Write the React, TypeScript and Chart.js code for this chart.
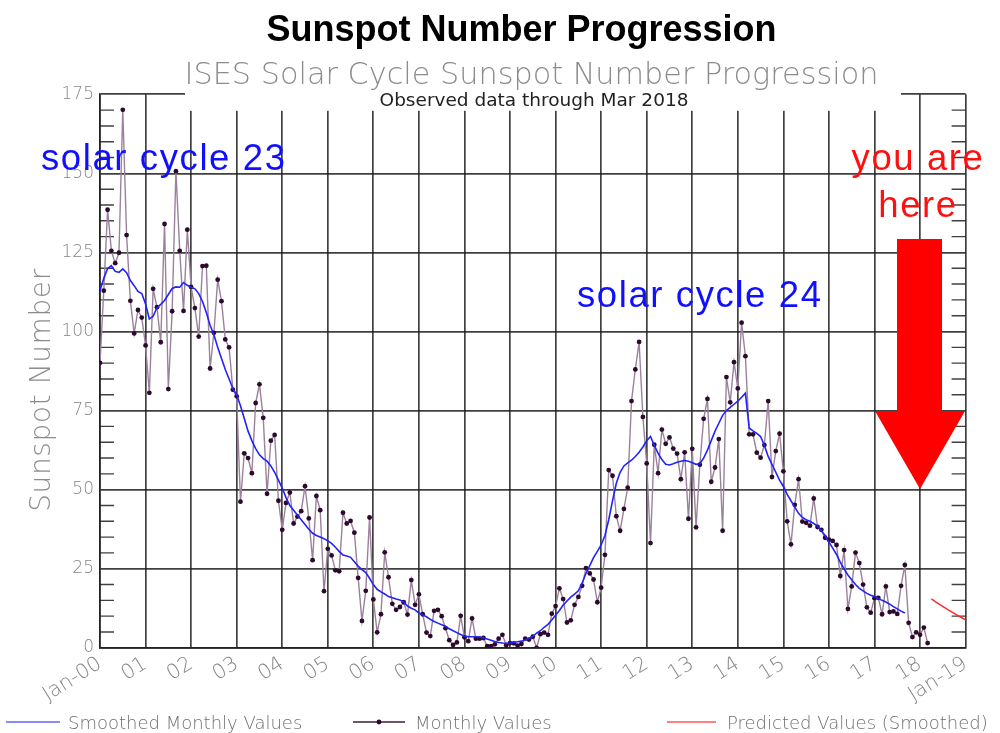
import React, { useEffect, useRef } from "react";
import { Chart, registerables } from "chart.js";

Chart.register(...registerables);

// ---------- Monthly values (Jan 2000 .. Mar 2018) ----------
const monthly2000 = [90.1, 112.9, 138.5, 125.5, 121.6, 124.9, 170.1, 130.5, 109.7, 99.4, 106.8, 104.4];
const monthly2001 = [95.6, 80.6, 113.5, 107.7, 96.6, 134.0, 81.8, 106.4, 150.7, 125.5, 106.5, 132.2];
const monthly2002 = [114.1, 107.4, 98.4, 120.7, 120.8, 88.3, 99.6, 116.4, 109.6, 97.5, 95.0, 81.6];
const monthly2003 = [79.5, 46.2, 61.5, 60.0, 55.2, 77.4, 83.3, 72.7, 48.7, 65.5, 67.3, 46.5];
const monthly2004 = [37.3, 45.8, 49.1, 39.3, 41.5, 43.2, 51.1, 40.9, 27.7, 48.0, 43.5, 17.9];
const monthly2005 = [31.3, 29.2, 24.5, 24.2, 42.7, 39.3, 40.1, 36.4, 22.1, 8.5, 18.0, 41.2];
const monthly2006 = [15.3, 4.9, 10.6, 30.2, 22.3, 13.9, 12.0, 12.9, 14.4, 10.5, 21.4, 13.6];
const monthly2007 = [16.9, 10.6, 4.8, 3.7, 11.7, 12.0, 10.0, 6.2, 2.4, 0.9, 1.7, 10.1];
const monthly2008 = [3.3, 2.1, 9.3, 2.9, 2.9, 3.1, 0.5, 0.5, 1.1, 2.9, 4.1, 0.8];
const monthly2009 = [1.5, 1.4, 0.7, 1.2, 2.9, 2.6, 3.5, 0.0, 4.3, 4.8, 4.1, 10.8];
const monthly2010 = [13.2, 18.8, 15.4, 8.0, 8.7, 13.6, 16.1, 19.6, 25.2, 23.5, 21.6, 14.4];
const monthly2011 = [19.0, 29.4, 56.2, 54.4, 41.6, 37.0, 43.9, 50.6, 78.0, 88.0, 96.7, 73.0];
const monthly2012 = [58.3, 33.1, 64.2, 55.2, 69.0, 64.5, 66.5, 63.0, 61.4, 53.3, 61.8, 40.8];
const monthly2013 = [62.9, 38.1, 57.9, 72.4, 78.7, 52.5, 57.0, 66.0, 37.0, 85.6, 77.6, 90.3];
const monthly2014 = [82.0, 102.8, 92.2, 67.5, 67.5, 61.7, 60.1, 64.1, 78.0, 54.0, 62.2, 67.7];
const monthly2015 = [55.8, 40.0, 32.7, 45.2, 53.3, 39.9, 39.5, 38.6, 47.2, 38.2, 37.3, 34.8];
const monthly2016 = [34.2, 33.8, 32.5, 22.7, 30.9, 12.3, 19.4, 30.1, 26.8, 20.0, 12.8, 11.1];
const monthly2017 = [15.7, 15.8, 10.6, 19.4, 11.3, 11.5, 10.7, 19.6, 26.2, 7.9, 3.4, 4.9];
const monthly2018 = [4.1, 6.4, 1.5];

// ---------- Smoothed monthly values (Jan 2000 .. Sep 2017) ----------
const smoothed2000 = [112.9, 116.8, 119.9, 120.8, 119.0, 118.7, 119.8, 118.6, 116.1, 114.5, 112.7, 112.0];
const smoothed2001 = [108.7, 104.0, 104.8, 107.5, 108.6, 109.8, 111.7, 113.6, 114.1, 114.0, 115.5, 114.6];
const smoothed2002 = [114.0, 113.5, 112.0, 109.5, 106.0, 102.0, 99.0, 95.0, 91.5, 88.0, 85.0, 82.0];
const smoothed2003 = [80.0, 76.5, 72.5, 68.5, 65.5, 63.0, 61.0, 59.8, 59.0, 57.5, 55.5, 53.0];
const smoothed2004 = [50.5, 47.5, 45.0, 43.5, 42.0, 40.5, 39.0, 37.5, 36.2, 35.5, 35.0, 34.5];
const smoothed2005 = [33.8, 33.0, 31.8, 30.5, 29.3, 29.0, 28.6, 27.2, 25.8, 24.7, 23.8, 22.0];
const smoothed2006 = [20.0, 18.5, 17.7, 17.0, 16.2, 15.8, 15.4, 15.1, 14.5, 13.2, 12.5, 12.0];
const smoothed2007 = [11.0, 10.4, 9.8, 9.0, 8.3, 7.8, 7.3, 6.8, 6.0, 5.4, 4.8, 4.2];
const smoothed2008 = [3.7, 3.5, 3.5, 3.5, 3.4, 3.1, 2.8, 2.4, 2.0, 1.7, 1.5, 1.4];
const smoothed2009 = [1.5, 1.7, 1.9, 2.1, 2.5, 3.0, 3.6, 4.6, 5.4, 6.5, 7.4, 8.8];
const smoothed2010 = [10.3, 11.8, 13.5, 14.8, 16.0, 17.0, 18.0, 20.5, 23.5, 26.0, 28.5, 30.5];
const smoothed2011 = [32.5, 35.5, 40.5, 46.5, 52.0, 55.5, 57.5, 58.5, 59.3, 60.5, 61.8, 63.5];
const smoothed2012 = [65.5, 66.8, 64.0, 61.5, 59.5, 58.0, 57.8, 58.2, 58.7, 59.0, 59.2, 59.0];
const smoothed2013 = [58.5, 58.0, 58.2, 60.0, 62.5, 65.5, 68.5, 71.0, 73.5, 75.0, 76.0, 77.0];
const smoothed2014 = [78.0, 79.2, 80.5, 69.5, 68.6, 67.8, 66.8, 64.0, 60.5, 58.0, 55.5, 53.0];
const smoothed2015 = [51.0, 48.5, 46.5, 44.5, 42.5, 41.2, 40.5, 40.0, 39.3, 38.5, 37.0, 35.5];
const smoothed2016 = [33.5, 31.5, 29.5, 27.0, 25.0, 23.0, 21.5, 20.0, 18.8, 18.0, 17.2, 16.6];
const smoothed2017 = [16.2, 15.6, 15.0, 14.5, 13.8, 13.0, 12.3, 11.6, 11.0];

// ---------- Predicted smoothed values (Apr 2018 .. Jan 2019) ----------
const predictedValues = [15.5, 14.6, 13.8, 13.1, 12.3, 11.6, 10.9, 10.2, 9.5, 8.8];
const predictedStartMonth = 219; // months after Jan 2000 (Apr 2018)

// ---------- Axes / text ----------
const xTickLabels = ["Jan-00", "01", "02", "03", "04", "05", "06", "07", "08", "09", "10",
  "11", "12", "13", "14", "15", "16", "17", "18", "Jan-19"];
const yTickValues = [0, 25, 50, 75, 100, 125, 150, 175];

const chartTitle = "Sunspot Number Progression";
const chartSubtitle = "ISES Solar Cycle Sunspot Number Progression";
const chartNote = "Observed data through Mar 2018";
const yAxisTitle = "Sunspot Number";
const legendLabels = ["Smoothed Monthly Values", "Monthly Values", "Predicted Values (Smoothed)"];
const annotation23 = "solar cycle 23";
const annotation24 = "solar cycle 24";
const hereLines = ["you are", "here"];

const monthlyValues = [
  ...monthly2000, ...monthly2001, ...monthly2002, ...monthly2003, ...monthly2004, ...monthly2005,
  ...monthly2006, ...monthly2007, ...monthly2008, ...monthly2009, ...monthly2010, ...monthly2011,
  ...monthly2012, ...monthly2013, ...monthly2014, ...monthly2015, ...monthly2016, ...monthly2017,
  ...monthly2018,
];
const smoothedValues = [
  ...smoothed2000, ...smoothed2001, ...smoothed2002, ...smoothed2003, ...smoothed2004, ...smoothed2005,
  ...smoothed2006, ...smoothed2007, ...smoothed2008, ...smoothed2009, ...smoothed2010, ...smoothed2011,
  ...smoothed2012, ...smoothed2013, ...smoothed2014, ...smoothed2015, ...smoothed2016, ...smoothed2017,
];

const GRID = "rgba(30,30,30,0.85)";
const LABEL_FONT = '"DejaVu Sans", sans-serif';

function drawText(ctx: CanvasRenderingContext2D, str: string, x: number, y: number, font: string,
  color: string, align: CanvasTextAlign = "left", spacing = "0px") {
  ctx.save();
  ctx.font = font;
  ctx.fillStyle = color;
  ctx.textAlign = align;
  ctx.textBaseline = "alphabetic";
  (ctx as any).letterSpacing = spacing;
  ctx.fillText(str, x, y);
  ctx.restore();
}

const decorPlugin = {
  id: "decor",
  beforeDatasetsDraw(chart: any) {
    const ctx: CanvasRenderingContext2D = chart.ctx;
    const { left, right, top } = chart.chartArea;
    const ys = chart.scales.y;
    ctx.save();
    // minor ticks every 5 units on both vertical borders
    ctx.strokeStyle = GRID;
    ctx.lineWidth = 1.4;
    for (let v = 5; v < 175; v += 5) {
      if (v % 25 === 0) continue;
      const py = ys.getPixelForValue(v);
      ctx.beginPath();
      ctx.moveTo(left, py);
      ctx.lineTo(left + 14, py);
      ctx.moveTo(right - 14, py);
      ctx.lineTo(right, py);
      ctx.stroke();
    }
    // white box behind the note
    ctx.fillStyle = "#ffffff";
    ctx.fillRect(185, top - 8, 716, 24.5);
    ctx.restore();
  },
  afterDraw(chart: any) {
    const ctx: CanvasRenderingContext2D = chart.ctx;
    // titles
    drawText(ctx, chartTitle, 521.5, 41, 'bold 36px "Liberation Sans", Arial, sans-serif', "#000000", "center");
    drawText(ctx, chartSubtitle, 531.5, 84, '300 30.3px "DejaVu Sans", sans-serif', "#8c8c8c", "center");
    drawText(ctx, chartNote, 534, 106, '18.5px "DejaVu Sans", sans-serif', "#222222", "center");

    // y axis title
    ctx.save();
    ctx.translate(50, 390);
    ctx.rotate(-Math.PI / 2);
    drawText(ctx, yAxisTitle, 0, 0, '300 28px "DejaVu Sans", sans-serif', "#8c8c8c", "center", "0.6px");
    ctx.restore();

    // annotations
    const annFont = '36.5px "Liberation Sans", Arial, sans-serif';
    drawText(ctx, annotation23, 41, 169.5, annFont, "#1010ff", "left", "1.6px");
    drawText(ctx, annotation24, 577, 306.5, annFont, "#1010ff", "left", "1.6px");
    drawText(ctx, hereLines[0], 918, 170, annFont, "#ff1010", "center", "1.6px");
    drawText(ctx, hereLines[1], 918, 217, annFont, "#ff1010", "center", "1.6px");

    // red arrow
    ctx.save();
    ctx.fillStyle = "#ff0000";
    ctx.beginPath();
    ctx.moveTo(897, 239);
    ctx.lineTo(942, 239);
    ctx.lineTo(942, 411);
    ctx.lineTo(965, 411);
    ctx.lineTo(920, 489);
    ctx.lineTo(875, 411);
    ctx.lineTo(897, 411);
    ctx.closePath();
    ctx.fill();
    ctx.restore();

    // legend
    const ly = 722;
    ctx.save();
    ctx.lineWidth = 2;
    ctx.strokeStyle = "#8a8aff";
    ctx.beginPath(); ctx.moveTo(6, ly); ctx.lineTo(60, ly); ctx.stroke();
    ctx.strokeStyle = "#6e546e";
    ctx.beginPath(); ctx.moveTo(353, ly); ctx.lineTo(405, ly); ctx.stroke();
    ctx.fillStyle = "#2a0a2a";
    ctx.beginPath(); ctx.arc(379, ly, 2.4, 0, Math.PI * 2); ctx.fill();
    ctx.strokeStyle = "#ff8080";
    ctx.beginPath(); ctx.moveTo(667, ly); ctx.lineTo(716, ly); ctx.stroke();
    ctx.restore();
    const legFont = '300 18px "DejaVu Sans", sans-serif';
    drawText(ctx, legendLabels[0], 68, ly + 6.5, legFont, "#707070");
    drawText(ctx, legendLabels[1], 415, ly + 6.5, legFont, "#707070");
    drawText(ctx, legendLabels[2], 727, ly + 6.5, legFont, "#707070");
  },
};

export default function App() {
  const ref = useRef<HTMLCanvasElement | null>(null);

  useEffect(() => {
    const canvas = ref.current;
    if (!canvas) return;

    const monthlyPoints = monthlyValues.map((v, i) => ({ x: i / 12, y: v }));
    const smoothedPoints = smoothedValues.map((v, i) => ({ x: i / 12, y: v }));
    const predictedPoints = predictedValues.map((v, i) => ({ x: (predictedStartMonth + i) / 12, y: v }));

    const chart = new Chart(canvas, {
      type: "line",
      data: {
        datasets: [
          {
            label: legendLabels[1],
            data: monthlyPoints,
            borderColor: "#9a829a",
            borderWidth: 1.4,
            pointRadius: 2.4,
            pointBackgroundColor: "#2d0a2d",
            pointBorderColor: "#2d0a2d",
            pointBorderWidth: 0,
            tension: 0,
            order: 3,
          },
          {
            label: legendLabels[0],
            data: smoothedPoints,
            borderColor: "#2222ff",
            borderWidth: 1.6,
            pointRadius: 0,
            tension: 0,
            order: 1,
          },
          {
            label: legendLabels[2],
            data: predictedPoints,
            borderColor: "#ff2a2a",
            borderWidth: 1.5,
            pointRadius: 0,
            tension: 0,
            order: 2,
          },
        ],
      },
      options: {
        responsive: false,
        animation: false,
        events: [],
        layout: { padding: { top: 94.3, right: 34.4, bottom: 0, left: 0 } },
        plugins: {
          legend: { display: false },
          tooltip: { enabled: false },
          title: { display: false },
        },
        scales: {
          x: {
            type: "linear",
            min: 0,
            max: 19,
            afterFit: (s: any) => { s.height = 85.2; s.paddingLeft = 0; s.paddingRight = 0; },
            afterBuildTicks: (s: any) => { s.ticks = xTickLabels.map((_, i) => ({ value: i })); },
            ticks: {
              autoSkip: false,
              maxRotation: 32,
              minRotation: 32,
              padding: 4,
              color: "#858585",
              font: { family: LABEL_FONT, size: 20.5, weight: "300" as any },
              callback: (_v: any, i: number) => xTickLabels[i],
            },
            grid: { color: GRID, lineWidth: 1.7, drawTicks: false },
            border: { color: GRID, width: 1.7 },
          },
          y: {
            min: 0,
            max: 175,
            afterFit: (s: any) => { s.width = 100; },
            afterBuildTicks: (s: any) => { s.ticks = yTickValues.map((v) => ({ value: v })); },
            ticks: {
              padding: 6,
              color: "#858585",
              font: { family: LABEL_FONT, size: 17, weight: "300" as any },
            },
            grid: { color: GRID, lineWidth: 1.7, drawTicks: false },
            border: { color: GRID, width: 1.7 },
          },
        },
      },
      plugins: [decorPlugin],
    } as any);

    return () => chart.destroy();
  }, []);

  return (
    <div style={{ position: "absolute", left: 0, top: 0, width: 1000, height: 733, background: "#ffffff" }}>
      <canvas ref={ref} width={1000} height={733} style={{ display: "block", width: 1000, height: 733 }} />
    </div>
  );
}
